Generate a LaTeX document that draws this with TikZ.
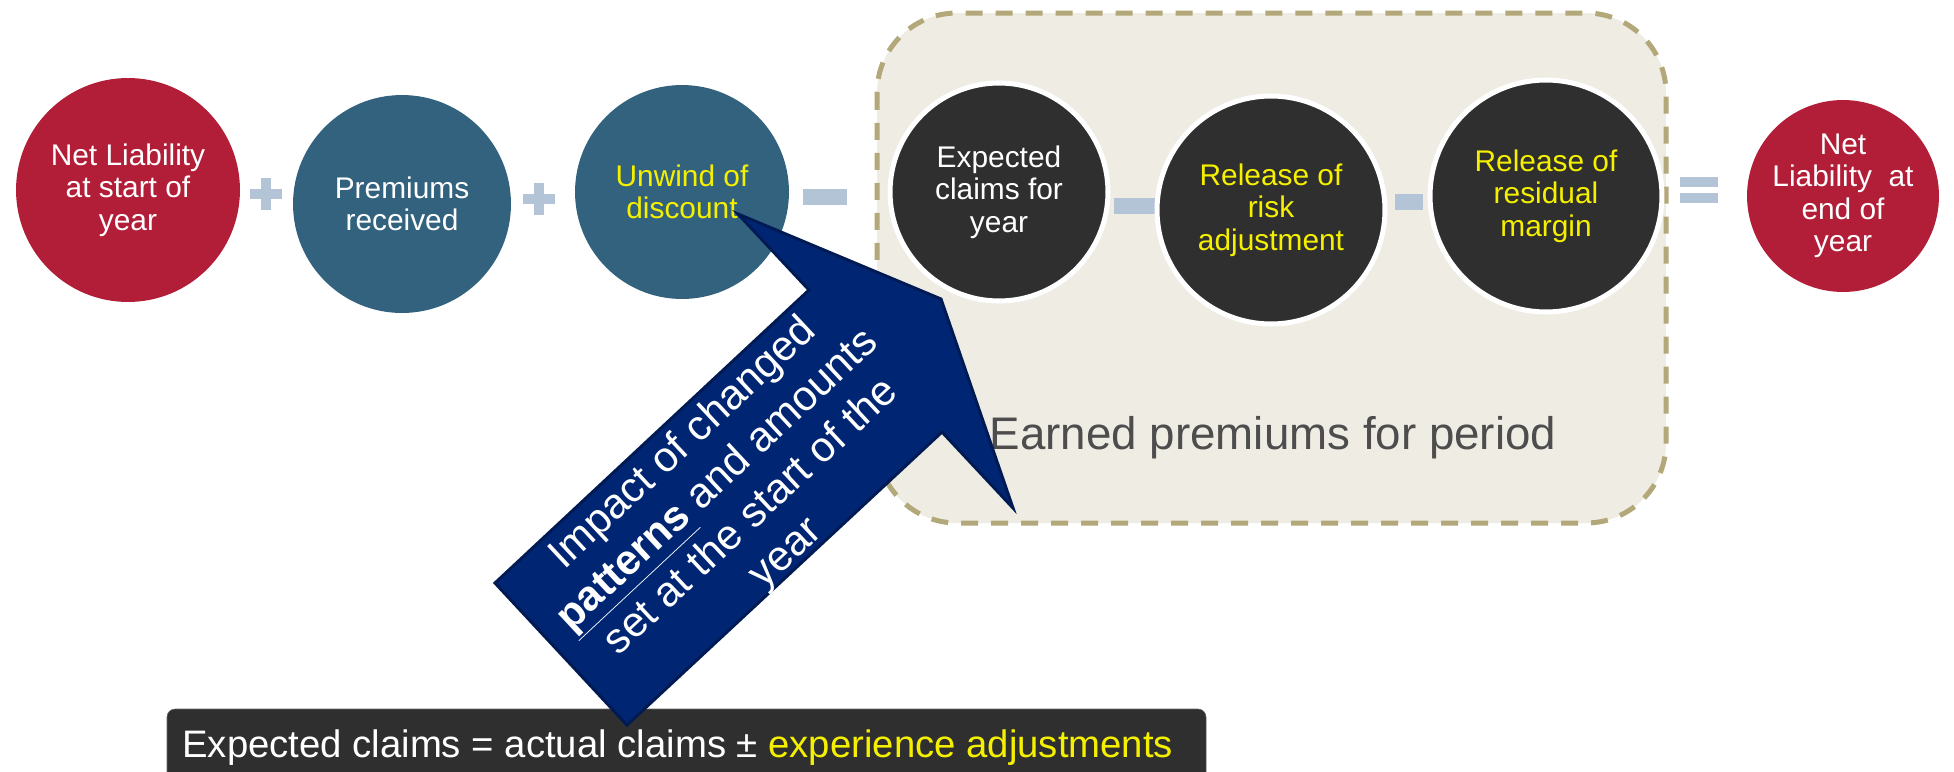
\documentclass[tikz,border=0pt]{standalone}
\usepackage{fontspec}
\setmainfont{Liberation Sans}
\usetikzlibrary{positioning}
\definecolor{wine}{RGB}{178,30,56}
\definecolor{petrol}{RGB}{50,98,126}
\definecolor{coal}{RGB}{47,47,47}
\definecolor{opblue}{RGB}{178,196,214}
\definecolor{sand}{RGB}{239,236,228}
\definecolor{khaki}{RGB}{178,168,122}
\definecolor{navy}{RGB}{0,38,115}
\definecolor{navyedge}{RGB}{0,26,84}
\definecolor{hilite}{RGB}{245,240,0}
\definecolor{slate}{RGB}{77,77,77}
\tikzset{
  bubble/.style={circle,fill=#1,text=white,inner sep=0pt,align=center,
    font=\fontsize{17}{18.5}\selectfont},
  bubble/.default=wine,
  ring/.style={bubble=coal,draw=white,line width=1mm},
  % operator signs between the bubbles
  pics/plusop/.style={code={
    \fill[opblue] (-16,-5) rectangle (16,5);
    \fill[opblue] (-5,-16) rectangle (5,16);
  }},
  pics/minusop/.style={code={
    \fill[opblue] (-#1,-8) rectangle (#1,8);
  }},
  pics/minusop/.default=22,
  pics/equalop/.style={code={
    \fill[opblue] (-19,-13) rectangle (19,-3);
    \fill[opblue] (-19,3) rectangle (19,13);
  }},
}

\begin{document}
\begin{tikzpicture}[x=0.02cm,y=-0.02cm]
  \useasboundingbox (0,0) rectangle (1954,771);

  % earned premiums panel
  \draw[khaki,fill=sand,line width=1mm,dash pattern=on 0.34cm off 0.26cm,
    rounded corners=1.6cm] (877,13) rectangle (1666,523);

  \pic at (266,194) {plusop};
  \pic at (539,199) {plusop};
  \pic at (825,197) {minusop};
  \pic at (1135,206) {minusop=21};
  \pic at (1409,202) {minusop=14};
  \pic at (1699,190) {equalop};

  \node[bubble,minimum size=4.48cm] (open) at (128,190) {Net Liability\\at start of\\year};
  \node[bubble=petrol,minimum size=4.36cm] (prem) at (402,204) {Premiums\\received};
  \node[bubble=petrol,minimum size=4.28cm,text=hilite] (unwind) at (682,192) {Unwind of\\discount};
  \node[ring,minimum size=4.36cm] (claims) at (999,192) {Expected\\claims for\\year};
  \node[ring,minimum size=4.56cm,text=hilite] (risk) at (1271,210) {Release of\\risk\\adjustment};
  \node[ring,minimum size=4.64cm,text=hilite] (margin) at (1546,196) {Release of\\residual\\margin};
  \node[bubble,minimum size=3.84cm] (close) at (1843,196) {Net\\Liability~ at\\end of\\year};

  \node[anchor=base,text=slate,font=\fontsize{26}{30}\selectfont] (earned) at (1273,449) {Earned premiums for period};

  % footnote bar
  \fill[coal,draw=black!60,line width=0.3pt,rounded corners=0.16cm] (167,709) rectangle (1206,800);
  \node[anchor=base west,text=white,inner sep=0pt,font=\fontsize{21.8}{24}\selectfont] (rule) at (182,757)
    {Expected claims = actual claims ± \textcolor{hilite}{experience adjustments}};

  % callout arrow
  \fill[navy,draw=navyedge,line width=0.6mm] (738,214) -- (941,299) -- (1013,508) -- (942,432)
    -- (627,725) -- (495,583) -- (809,290) -- cycle;
  \node[rotate=43,text=white,align=center,inner sep=0pt,font=\fontsize{24}{28.5}\selectfont] (impact) at (735,499)
    {Impact of changed\\ \underline{\textbf{patterns}} and amounts\\ set at the start of the\\ year};
\end{tikzpicture}
\end{document}
